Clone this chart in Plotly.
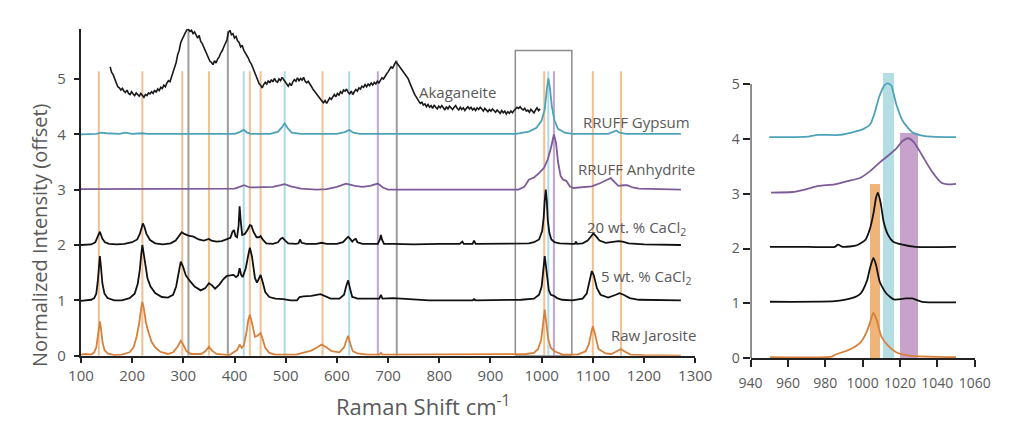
import plotly.graph_objects as go

# ---------------- data: left panel ----------------
aka_x = [157 + 3 * i for i in range(281)]
aka_y = [5.22, 5.12, 5.08, 4.98, 4.93, 4.86, 4.84, 4.80, 4.83, 4.78,
         4.76, 4.80, 4.74, 4.72, 4.77, 4.73, 4.70, 4.75, 4.72, 4.69,
         4.74, 4.71, 4.67, 4.72, 4.70, 4.75, 4.73, 4.77, 4.74, 4.80,
         4.76, 4.82, 4.79, 4.85, 4.83, 4.89, 4.86, 4.93, 4.97, 4.95,
         5.04, 5.10, 5.22, 5.30, 5.44, 5.52, 5.66, 5.71, 5.78, 5.84,
         5.89, 5.90, 5.86, 5.88, 5.82, 5.85, 5.78, 5.74, 5.79, 5.68,
         5.64, 5.58, 5.51, 5.44, 5.38, 5.32, 5.30, 5.26, 5.33, 5.29,
         5.36, 5.40, 5.47, 5.51, 5.58, 5.64, 5.70, 5.84, 5.88, 5.80,
         5.82, 5.74, 5.77, 5.69, 5.66, 5.58, 5.61, 5.52, 5.48, 5.42,
         5.38, 5.31, 5.27, 5.20, 5.12, 5.06, 4.98, 4.92, 4.89, 4.84,
         4.90, 4.94, 4.91, 4.97, 4.93, 4.99, 4.95, 5.01, 4.96, 4.94,
         5.00, 4.97, 5.03, 4.98, 4.95, 4.91, 4.87, 4.92, 4.88, 4.95,
         4.99, 4.96, 5.02, 4.97, 5.01, 4.98, 5.03, 4.96, 4.93, 4.96,
         4.90, 4.87, 4.82, 4.78, 4.74, 4.70, 4.66, 4.63, 4.60, 4.57,
         4.61, 4.56, 4.62, 4.66, 4.63, 4.69, 4.72, 4.68, 4.74, 4.71,
         4.77, 4.74, 4.80, 4.78, 4.82, 4.76, 4.73, 4.78, 4.72, 4.77,
         4.81, 4.78, 4.84, 4.82, 4.87, 4.85, 4.90, 4.86, 4.91, 4.88,
         4.93, 4.89, 4.94, 4.91, 4.96, 4.93, 4.98, 5.02, 5.00, 5.06,
         5.09, 5.13, 5.17, 5.22, 5.20, 5.27, 5.31, 5.28, 5.24, 5.22,
         5.18, 5.14, 5.09, 5.05, 5.01, 4.94, 4.86, 4.80, 4.74, 4.69,
         4.63, 4.60, 4.56, 4.58, 4.53, 4.55, 4.50, 4.54, 4.49, 4.52,
         4.47, 4.53, 4.49, 4.46, 4.51, 4.48, 4.52, 4.47, 4.44, 4.50,
         4.46, 4.51, 4.48, 4.45, 4.49, 4.52, 4.47, 4.44, 4.49, 4.45,
         4.48, 4.43, 4.47, 4.50, 4.46, 4.49, 4.44, 4.47, 4.43, 4.48,
         4.45, 4.49, 4.46, 4.42, 4.47, 4.44, 4.41, 4.45, 4.42, 4.46,
         4.43, 4.40, 4.44, 4.41, 4.38, 4.43, 4.39, 4.42, 4.37, 4.41,
         4.38, 4.42, 4.39, 4.43, 4.46, 4.49, 4.47, 4.50, 4.46, 4.44,
         4.47, 4.42, 4.44, 4.40, 4.45, 4.41, 4.39, 4.44, 4.48, 4.43,
         4.46]

gyp_x = [100, 130, 140, 150, 175, 187, 200, 219, 230, 300, 400, 410, 418, 425, 432,
         470, 485, 492, 498, 504, 512, 530, 600, 615, 624, 632, 645, 800, 950, 975,
         990, 1000, 1006, 1010, 1013, 1016, 1020, 1025, 1032, 1045, 1060, 1130, 1140,
         1146, 1152, 1165, 1272]
gyp_y = [4.0, 4.01, 4.03, 4.02, 4.01, 4.03, 4.01, 4.02, 4.01, 4.01, 4.01, 4.04, 4.08, 4.03, 4.01,
         4.01, 4.05, 4.12, 4.2, 4.11, 4.03, 4.01, 4.01, 4.04, 4.08, 4.03, 4.01, 4.01, 4.01, 4.05,
         4.12, 4.25, 4.45, 4.8, 5.01, 4.85, 4.5, 4.25, 4.1, 4.03, 4.01, 4.01, 4.04,
         4.07, 4.03, 4.01, 4.01]

anh_x = [100, 200, 300, 400, 410, 419, 430, 450, 475, 490, 498, 510, 530, 560, 580, 600,
         618, 635, 650, 665, 680, 690, 700, 900, 955, 966, 975, 985, 995, 1005, 1012,
         1018, 1024, 1028, 1032, 1037, 1042, 1048, 1055, 1062, 1080, 1098, 1115, 1128,
         1135, 1142, 1150, 1160, 1167, 1178, 1190, 1272]
anh_y = [3.01, 3.01, 3.01, 3.02, 3.05, 3.08, 3.04, 3.04, 3.05, 3.08, 3.1, 3.06, 3.02, 3.0, 3.01, 3.05,
         3.11, 3.07, 3.05, 3.07, 3.11, 3.04, 3.0, 3.0, 3.0, 3.05, 3.18, 3.22, 3.3, 3.4, 3.55,
         3.75, 4.0, 3.85, 3.5, 3.25, 3.18, 3.16, 3.06, 3.03, 3.04, 3.06, 3.12, 3.18,
         3.21, 3.14, 3.07, 3.08, 3.08, 3.04, 3.02, 3.0]

w20_x = [100, 110, 120, 128, 132, 135, 137, 139, 142, 147, 155, 170, 185, 200, 210, 215,
         219, 221, 224, 228, 235, 245, 260, 265, 275, 285, 292, 297, 302, 310, 320, 330,
         340, 346, 350, 355, 365, 375, 385, 392, 396, 399, 402, 405, 408, 410, 412, 415,
         420, 426, 430, 433, 437, 443, 448, 451, 455, 462, 475, 485, 490, 494, 499, 505,
         520, 525, 528, 531, 540, 560, 570, 580, 600, 612, 618, 622, 626, 630, 634, 637,
         640, 650, 665, 680, 684, 686, 688, 692, 710, 750, 800, 840, 845, 848, 865, 868,
         871, 900, 950, 975, 985, 995, 1001, 1004, 1006, 1008, 1010, 1012, 1015, 1019,
         1025, 1035, 1060, 1065, 1067, 1069, 1080, 1090, 1096, 1101, 1106, 1113, 1125,
         1140, 1150, 1158, 1170, 1200, 1240, 1272]
w20_y = [2.0, 2.01, 2.01, 2.05, 2.12, 2.2, 2.24, 2.2, 2.11, 2.05, 2.02, 2.01, 2.02, 2.05, 2.1, 2.2,
         2.33, 2.39, 2.33, 2.2, 2.09, 2.03, 2.01, 2.02, 2.03, 2.08, 2.17, 2.23, 2.2, 2.17, 2.15, 2.1,
         2.08, 2.09, 2.11, 2.08, 2.06, 2.07, 2.1, 2.13, 2.24, 2.27, 2.16, 2.14, 2.35, 2.7, 2.45, 2.18,
         2.2, 2.28, 2.36, 2.35, 2.24, 2.14, 2.14, 2.16, 2.1, 2.03, 2.02, 2.05, 2.11, 2.13, 2.08, 2.03,
         2.02, 2.03, 2.1, 2.04, 2.02, 2.02, 2.04, 2.02, 2.02, 2.05, 2.11, 2.15, 2.11, 2.06, 2.1, 2.11,
         2.05, 2.02, 2.02, 2.02, 2.1, 2.18, 2.1, 2.02, 2.02, 2.01, 2.02, 2.02, 2.06, 2.02, 2.02, 2.08,
         2.02, 2.02, 2.02, 2.03, 2.05, 2.1, 2.25, 2.5, 2.8, 3.0, 2.8, 2.45, 2.22, 2.1,
         2.05, 2.03, 2.02, 2.02, 2.06, 2.02, 2.03, 2.08, 2.15, 2.21, 2.16, 2.08, 2.04,
         2.05, 2.07, 2.06, 2.03, 2.01, 2.0, 2.0]

w5_x = [100, 110, 120, 126, 130, 133, 135, 137, 139, 142, 146, 152, 165, 180, 195, 205,
        211, 215, 218, 220, 222, 226, 230, 236, 245, 258, 270, 280, 286, 291, 295, 299,
        305, 312, 322, 334, 343, 350, 356, 362, 370, 378, 385, 392, 398, 403, 407, 410,
        413, 416, 422, 427, 430, 434, 440, 444, 448, 451, 455, 460, 468, 480, 495, 510,
        522, 527, 535, 550, 568, 575, 588, 605, 614, 618, 622, 626, 630, 635, 640, 660,
        683, 686, 689, 710, 740, 780, 865, 868, 871, 960, 985, 995, 1000, 1003, 1006,
        1008, 1011, 1014, 1018, 1024, 1030, 1040, 1060, 1080, 1088, 1094, 1098, 1102,
        1108, 1115, 1130, 1145, 1152, 1160, 1172, 1190, 1230, 1272]
w5_y = [0.99, 1.0, 1.01, 1.04, 1.12, 1.35, 1.6, 1.8, 1.62, 1.3, 1.12, 1.04, 1.0, 1.0, 1.04, 1.12,
        1.3, 1.55, 1.85, 2.0, 1.88, 1.6, 1.4, 1.25, 1.13, 1.06, 1.05, 1.1, 1.25, 1.5, 1.7, 1.62,
        1.45, 1.36, 1.25, 1.18, 1.22, 1.31, 1.27, 1.21, 1.28, 1.38, 1.44, 1.45, 1.46, 1.42, 1.45, 1.58,
        1.46, 1.42, 1.58, 1.82, 1.95, 1.8, 1.4, 1.32, 1.4, 1.46, 1.33, 1.15, 1.06, 1.03, 1.02, 1.0,
        1.0, 1.06, 1.07, 1.08, 1.11, 1.08, 1.03, 1.03, 1.1, 1.25, 1.36, 1.2, 1.06, 1.05, 1.03, 1.03,
        1.03, 1.1, 1.03, 1.04, 1.02, 1.0, 1.0, 1.02, 1.0, 1.01, 1.03, 1.1, 1.25, 1.5, 1.8,
        1.65, 1.35, 1.18, 1.1, 1.08, 1.04, 1.01, 1.0, 1.03, 1.12, 1.35, 1.53, 1.45,
        1.22, 1.1, 1.05, 1.1, 1.13, 1.1, 1.04, 1.01, 1.0, 1.0]

jar_x = [100, 110, 120, 126, 130, 133, 135, 137, 139, 142, 146, 152, 165, 180, 195, 203,
         209, 214, 218, 220, 223, 227, 232, 238, 245, 255, 270, 280, 288, 295, 300, 306,
         315, 335, 343, 350, 356, 365, 390, 400, 405, 410, 414, 418, 423, 427, 430, 434,
         440, 445, 451, 455, 460, 468, 480, 520, 535, 550, 562, 570, 578, 590, 605, 614,
         618, 622, 626, 631, 640, 660, 683, 686, 689, 750, 900, 970, 985, 993, 999, 1003,
         1006, 1009, 1013, 1018, 1025, 1041, 1070, 1086, 1092, 1097, 1100, 1104, 1111,
         1125, 1136, 1145, 1155, 1163, 1174, 1200, 1272]
jar_y = [0.02, 0.03, 0.02, 0.06, 0.15, 0.35, 0.55, 0.62, 0.5, 0.25, 0.1, 0.04, 0.01, 0.02, 0.06, 0.15,
         0.35, 0.6, 0.88, 0.97, 0.85, 0.6, 0.42, 0.25, 0.15, 0.07, 0.03, 0.06, 0.15, 0.27, 0.2, 0.08,
         0.03, 0.03, 0.08, 0.16, 0.09, 0.03, 0.01, 0.06, 0.1, 0.2, 0.14, 0.18, 0.4, 0.65, 0.74, 0.6,
         0.34, 0.36, 0.41, 0.3, 0.14, 0.05, 0.02, 0.02, 0.05, 0.09, 0.15, 0.2, 0.16, 0.08, 0.06, 0.15,
         0.26, 0.36, 0.22, 0.08, 0.04, 0.02, 0.02, 0.05, 0.02, 0.02, 0.02, 0.03, 0.05, 0.12, 0.28, 0.55,
         0.83, 0.6, 0.29, 0.14, 0.08, 0.02, 0.02, 0.08, 0.2, 0.42, 0.53, 0.4, 0.12,
         0.04, 0.03, 0.07, 0.12, 0.07, 0.02, 0.01, 0.0]

# reference lines (position, kind, top value)
vline_pos = [135, 220, 298, 310, 350, 387, 418, 430, 451, 498, 572, 624, 680, 717, 1005, 1013, 1024, 1100, 1155]
vline_kind = ["o", "o", "o", "g", "o", "g", "c", "o", "o", "c", "o", "c", "p", "g", "o", "c", "p", "o", "o"]
vline_top = [5.14, 5.14, 5.14, 5.9, 5.14, 5.87, 5.14, 5.14, 5.14, 5.14, 5.14, 5.14, 5.14, 5.34, 5.14, 5.14, 5.14, 5.14, 5.14]

box_x = [948.6, 1059]
box_y = [0, 5.515]

# ---------------- data: right panel ----------------
r_gyp_x = [950, 971, 976, 988, 995, 1000.5, 1004, 1006.5, 1009, 1011.8, 1013.6, 1015.3, 1018, 1021.4, 1026.6, 1033.5, 1050]
r_gyp_y = [4.03, 4.04, 4.07, 4.07, 4.12, 4.18, 4.26, 4.48, 4.78, 4.98, 5.01, 4.97, 4.63, 4.33, 4.12, 4.05, 4.03]

r_anh_x = [951, 962.5, 969.5, 976.4, 985, 992, 998.9, 1004, 1009.2, 1013.6, 1018, 1021.4, 1024.3, 1027.4, 1031.8, 1037, 1042.2, 1045.6, 1050]
r_anh_y = [3.02, 3.03, 3.08, 3.14, 3.17, 3.23, 3.29, 3.41, 3.57, 3.69, 3.82, 3.96, 4.01, 3.94, 3.7, 3.41, 3.2, 3.17, 3.18]

r_w20_x = [950.4, 971, 985, 986.8, 989.4, 997, 1001.5, 1004, 1005.9, 1007.2, 1008.2, 1009.6, 1011.3, 1013.6, 1016.2, 1021.4, 1028.3, 1050]
r_w20_y = [2.03, 2.03, 2.03, 2.07, 2.03, 2.06, 2.16, 2.37, 2.66, 2.93, 3.02, 2.84, 2.48, 2.25, 2.13, 2.07, 2.03, 2.03]

r_w5_x = [950.4, 985, 993.7, 998.9, 1002.3, 1004, 1005.8, 1007.2, 1009.2, 1012.7, 1017, 1023, 1026.6, 1031.8, 1050]
r_w5_y = [1.03, 1.04, 1.09, 1.18, 1.41, 1.65, 1.83, 1.7, 1.39, 1.18, 1.07, 1.09, 1.09, 1.03, 1.02]

r_jar_x = [950.4, 983.5, 985, 993.7, 998.9, 1002.3, 1004.4, 1005.8, 1007.5, 1010, 1013.6, 1018, 1024.8, 1050]
r_jar_y = [0.02, 0.03, 0.06, 0.17, 0.29, 0.49, 0.7, 0.83, 0.7, 0.4, 0.23, 0.11, 0.05, 0.02]

bar_center = [1006.25, 1013.6, 1024.8]
bar_width = [5.5, 6.2, 9.6]
bar_top = [3.18, 5.2, 4.1]
bar_colors = ["#f0b479", "#b5dde4", "#c7a3cb"]

left_ticks = list(range(100, 1301, 100))
right_ticks = list(range(940, 1061, 20))
y_ticks = [0, 1, 2, 3, 4, 5]

# ---------------- styling ----------------
W, H = 1015, 427
C_GYP = "#4ea2b8"
C_ANH = "#7d5b98"
C_JAR = "#d8803a"
C_BLK = "#111111"
TXT = "#595959"
FONT = "Open Sans"
vcol = {"o": "rgba(236,170,110,0.75)", "c": "rgba(150,210,228,0.8)",
        "p": "rgba(180,150,205,0.85)", "g": "rgba(140,140,140,0.85)"}

fig = go.Figure()

fig.add_trace(go.Bar(x=bar_center, y=bar_top, width=bar_width, base=0,
                     marker=dict(color=bar_colors, line=dict(width=0)),
                     xaxis="x2", yaxis="y2", showlegend=False, hoverinfo="skip"))

lw = 1.8
for xs, ys, c, w in [(aka_x, aka_y, "#1a1a1a", 1.6), (gyp_x, gyp_y, C_GYP, lw), (anh_x, anh_y, C_ANH, lw),
                     (w20_x, w20_y, C_BLK, lw), (w5_x, w5_y, C_BLK, lw), (jar_x, jar_y, C_JAR, lw)]:
    fig.add_trace(go.Scatter(x=xs, y=ys, mode="lines", line=dict(color=c, width=w),
                             xaxis="x", yaxis="y", showlegend=False, hoverinfo="skip"))

for xs, ys, c in [(r_gyp_x, r_gyp_y, C_GYP), (r_anh_x, r_anh_y, C_ANH), (r_w20_x, r_w20_y, C_BLK),
                  (r_w5_x, r_w5_y, C_BLK), (r_jar_x, r_jar_y, C_JAR)]:
    fig.add_trace(go.Scatter(x=xs, y=ys, mode="lines", line=dict(color=c, width=lw, shape="spline", smoothing=0.6),
                             xaxis="x2", yaxis="y2", showlegend=False, hoverinfo="skip"))

shapes = []
for p, k, t in zip(vline_pos, vline_kind, vline_top):
    shapes.append(dict(type="line", xref="x", yref="y", x0=p, x1=p, y0=0, y1=t,
                       line=dict(color=vcol[k], width=2), layer="below"))
shapes.append(dict(type="rect", xref="x", yref="y", x0=box_x[0], x1=box_x[1], y0=box_y[0], y1=box_y[1],
                   line=dict(color="#8c8c8c", width=1.5), layer="below"))
shapes.append(dict(type="line", xref="x2", yref="y2", x0=940, x1=940, y0=0, y1=5,
                   line=dict(color="#222222", width=2)))

ann = []
lab = [("Akaganeite", 835, 4.77), ("RRUFF Gypsum", 1185, 4.22), ("RRUFF Anhydrite", 1185, 3.37),
       ("20 wt. % CaCl<sub>2</sub>", 1186, 2.3), ("5 wt. % CaCl<sub>2</sub>", 1205, 1.42),
       ("Raw Jarosite", 1218, 0.38)]
for t, x, y in lab:
    ann.append(dict(text=t, x=x, y=y, xref="x", yref="y", showarrow=False,
                    xanchor="center", yanchor="middle",
                    font=dict(family=FONT, size=15, color=TXT)))
ann.append(dict(text="Raman Shift cm<sup>-1</sup>", x=423 / W, y=1 - 414 / H, xref="paper", yref="paper",
                showarrow=False, xanchor="center", yanchor="middle",
                font=dict(family=FONT, size=22, color=TXT)))
ann.append(dict(text="Normalized Intensity (offset)", x=28 / W, y=1 - 240 / H, xref="paper", yref="paper",
                showarrow=False, textangle=-90, xanchor="center", yanchor="middle",
                font=dict(family=FONT, size=20, color=TXT)))

axis_common = dict(showgrid=False, zeroline=False, ticks="outside", tickcolor="#222222",
                   tickfont=dict(family=FONT, size=15, color=TXT))
small_font = dict(family=FONT, size=14, color=TXT)

fig.update_layout(
    width=W, height=H, margin=dict(l=0, r=0, t=0, b=0),
    paper_bgcolor="white", plot_bgcolor="rgba(0,0,0,0)",
    barmode="overlay", bargap=0,
    shapes=shapes, annotations=ann,
    xaxis=dict(domain=[70 / W, 703 / W], range=[100, 1300], tickvals=left_ticks, anchor="y",
               showline=True, linecolor="#222222", linewidth=2, ticklen=5, tickwidth=1.5, **axis_common),
    yaxis=dict(domain=[63.7 / H, 397.7 / H], range=[0, 5.91], tickvals=y_ticks, anchor="x",
               showline=True, linecolor="#222222", linewidth=2, ticklen=5, tickwidth=1.5,
               ticklabelstandoff=5, **axis_common),
    xaxis2=dict(domain=[760 / W, 991 / W], range=[940, 1060], tickvals=right_ticks, anchor="y2",
                showline=True, linecolor="#222222", linewidth=2, ticklen=7, tickwidth=1.5,
                ticklabelstandoff=4, **{**axis_common, "tickfont": small_font}),
    yaxis2=dict(domain=[61 / H, (H - 71.7) / H], range=[0, 5.25], tickvals=y_ticks, anchor="x2",
                showline=False, ticklen=7, tickwidth=1.5,
                **{**axis_common, "tickfont": small_font}),
)

fig.write_html("out.html")
